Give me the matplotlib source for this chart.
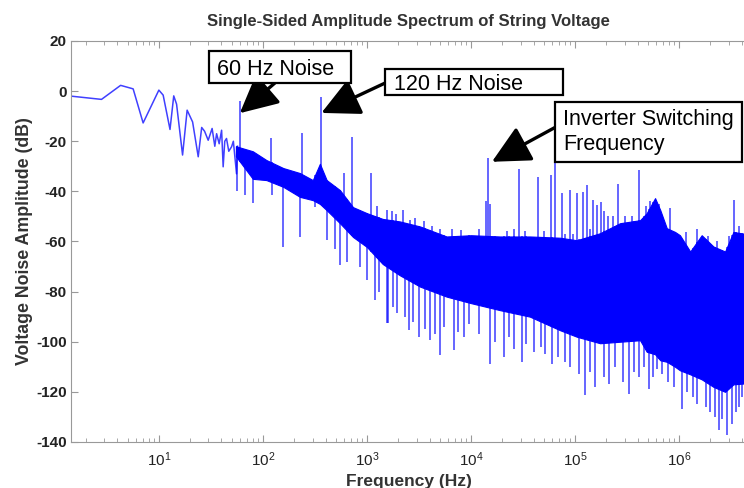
import numpy as np
import matplotlib
matplotlib.use("Agg")
import matplotlib.pyplot as plt
from matplotlib.patches import Rectangle

plt.rcParams['font.family'] = 'Liberation Sans'
plt.rcParams['axes.unicode_minus'] = False

# -------- DATA --------
# low-frequency part, drawn as a plain line
lf_freq = [1.43, 2.81, 4.29, 5.66, 7.06, 10.0, 11.0, 12.8, 13.9, 14.8, 16.9, 18.7,
           21.1, 23.9, 25.8, 27.5, 29.8, 32.5, 34.5, 35.9, 38, 40.1, 41.5, 43,
           44.7, 47, 50, 52, 55.8, 57]
lf_db = [-2.0, -3.3, 2.3, 0.9, -12.7, 0.4, -1.6, -15.3, -1.9, -5.2, -25.5, -7.6,
         -12.3, -26.2, -14.5, -16, -19.6, -14.9, -22, -17, -21, -15.6, -30.2, -20,
         -18.9, -24, -22.2, -20, -33, -22]

# dense noise band: upper and lower edge of the solid core
band_freq = [55, 80, 108, 157, 227, 302, 353, 410, 550, 735, 1000, 1420, 2075,
             3240, 5830, 1e4, 1.9e4, 3.69e4, 7.18e4, 1.04e5, 1.74e5, 2.71e5,
             4.22e5, 4.89e5, 5.88e5, 6.6e5, 7.62e5, 9.16e5, 1.02e6, 1.28e6,
             1.65e6, 2.14e6, 2.77e6, 3.33e6, 4.4e6]
band_top = [-22, -24, -27.5, -30.7, -32.7, -35.5, -29, -35.5, -39.5, -46.3, -48.7,
            -51, -52, -54, -58, -57.5, -58, -58, -58.5, -59.5, -56.7, -52.7,
            -51.5, -48.7, -42.7, -47.5, -54.7, -56.2, -57.5, -64,
            -57.5, -62, -64, -56.2, -57]
band_bot = [-26, -35, -35.5, -38.2, -42.2, -43.5, -45, -47.5, -52.7, -58.2, -62.2,
            -69, -73.5, -78, -82, -84.6, -87.4, -90, -95.4, -98, -100.6, -100,
            -99.4, -104, -105, -107.4, -108, -110, -111.4, -113,
            -115, -118, -120, -117, -116.6]

# harmonic lines and smaller bursts sticking up out of the band
up_freq = [60, 120, 240, 360, 600, 720, 1100, 1250, 1550, 1730, 1900, 2200, 2590,
           2880, 3500, 4200, 5000, 6500, 8000, 12000, 14000, 14700, 15400, 22000,
           26000, 29100, 33000, 44000, 50000, 58300, 64600, 74500, 80000, 88500,
           96000, 104000, 118600, 129500, 140000, 148000, 164000, 177000, 191000,
           209000, 230000, 261000, 300000, 350000, 410000, 480000, 530000,
           640000, 819000, 1170000, 1500000, 1900000, 2300000, 3000000, 3400000,
           3800000]
up_top = [-4, -18.8, -16.8, -2.5, -32.7, -18.4, -32.7, -46, -47.5, -48, -49,
          -47.5, -51.5, -50.7, -52, -54, -55, -55, -55.5, -55, -44, -26.8, -45,
          -56, -55, -31, -56, -34.2, -56, -33.5, -28.8, -40.5, -57, -39.5, -57,
          -40.7, -40.2, -37.5, -55, -43.5, -45.5, -44.2, -47.9, -49.9, -50,
          -36.9, -50, -50, -31.6, -46, -44, -45, -46.7, -56.2, -55, -58, -60,
          -58, -43.5, -54]

# deep notches below the band
dip_freq = [56, 67, 81, 121, 157, 227, 316, 409, 492, 550, 638, 857, 993, 1194,
            1300, 1556, 1604, 1800, 1933, 2300, 2517, 2800, 3141, 3600, 4061,
            4500, 5070, 5500, 6820, 7500, 8500, 9500, 12000, 15350, 17000,
            20620, 23000, 26000, 30900, 34000, 40000, 47000, 52000, 60100,
            68000, 80700, 90000, 110000, 125600, 140000, 156700, 190000,
            210800, 240000, 290000, 328000, 370000, 410000, 460000, 512000,
            560000, 620000, 687000, 780000, 900000, 1070000, 1200000, 1350000,
            1490000, 1800000, 2000000, 2200000, 2410000, 2600000, 2900000,
            3240000, 3500000, 3750000, 4000000]
dip_db = [-40, -41.5, -44.8, -41.5, -62.2, -58.2, -46.2, -59.5, -62.8, -69.5,
          -68.1, -70.1, -75.4, -83.4, -80, -92.7, -92.7, -86, -88.7, -90, -95.4,
          -92, -98.1, -95, -99.4, -97, -105.4, -94, -103.4, -96, -98, -93, -97,
          -108.7, -100, -106, -98, -103, -108, -101, -104, -102, -105, -108.7,
          -106, -108, -110, -113, -121.4, -112, -118, -114, -116.7, -110,
          -116, -120.7, -112, -114, -110, -118.7, -114, -111, -112.7, -116,
          -118, -126.7, -120, -122, -124.7, -126, -128, -130, -135.3, -131,
          -137.3, -132.7, -128, -126, -122]

# -------- FIGURE --------
fig = plt.figure(figsize=(7.44, 4.88), dpi=100)
ax = fig.add_axes([0.0954, 0.0943, 0.9073, 0.8217])
blue = '#0000ff'

ax.plot(lf_freq, lf_db, color=blue, lw=1.1, alpha=0.75)
ax.fill_between(band_freq, band_bot, band_top, color=blue, lw=0.8, edgecolor=blue)

lbf = np.log10(band_freq)
up_base = np.interp(np.log10(up_freq), lbf, band_bot)
ax.vlines(up_freq, up_base, up_top, color=blue, lw=1.2, alpha=0.7)
dip_base = np.interp(np.log10(dip_freq), lbf, band_top)
ax.vlines(dip_freq, dip_base, dip_db, color=blue, lw=1.2, alpha=0.7)

ax.set_xscale('log')
ax.set_xlim(1.43, 4.4e6)
ax.set_ylim(-140, 20)
ax.set_yticks(np.arange(-140, 21, 20))
ax.set_xticks([1e1, 1e2, 1e3, 1e4, 1e5, 1e6])

for s in ax.spines.values():
    s.set_color('#999999')
ax.tick_params(which='both', direction='in', top=True, right=False, colors='#999999',
               labelcolor='#222222', labelsize=11)
ax.tick_params(which='major', length=5)
ax.tick_params(which='minor', length=3)
ax.tick_params(axis='x', pad=6)
ax.tick_params(axis='y', pad=3)
for lab in ax.get_yticklabels():
    lab.set_fontweight('bold')

ax.set_title('Single-Sided Amplitude Spectrum of String Voltage', fontsize=12,
             fontweight='bold', color='#333333', pad=11)
ax.set_xlabel('Frequency (Hz)', fontsize=12.5, fontweight='bold', color='#333333',
              labelpad=4)
ax.set_ylabel('Voltage Noise Amplitude (dB)', fontsize=12.8, fontweight='bold',
              color='#333333', labelpad=2)


# -------- CAIXAS E SETAS --------
def px_box(x0, y0, x1, y1):
    r = Rectangle((x0 / 744, 1 - y1 / 488), (x1 - x0) / 744, (y1 - y0) / 488,
                  transform=fig.transFigure, facecolor='white', edgecolor='black',
                  lw=1.6, zorder=5)
    fig.add_artist(r)


def px_text(x, y, s):
    fig.text(x / 744, 1 - y / 488, s, fontsize=15.5, va='baseline', ha='left',
             zorder=6)


px_box(209, 51, 351, 83)
px_text(217, 75, '60 Hz Noise')
px_box(385, 69, 563, 95)
px_text(394, 90.5, '120 Hz Noise')
px_box(555, 102, 742, 162)
px_text(563, 125, 'Inverter Switching')
px_text(563, 149.5, 'Frequency')

arrow = dict(arrowstyle='-|>,head_length=0.9,head_width=0.45', mutation_scale=26,
             lw=2.4, color='black', shrinkA=0, shrinkB=0)
ax.annotate('', xy=(60, -8.8), xytext=(130, 3.2), arrowprops=arrow,
            annotation_clip=False)
ax.annotate('', xy=(365, -8.7), xytext=(1490, 3.2), arrowprops=arrow,
            annotation_clip=False)
ax.annotate('', xy=(15900, -28.2), xytext=(64200, -14.5), arrowprops=arrow,
            annotation_clip=False)

fig.savefig('out.png', dpi=100)
